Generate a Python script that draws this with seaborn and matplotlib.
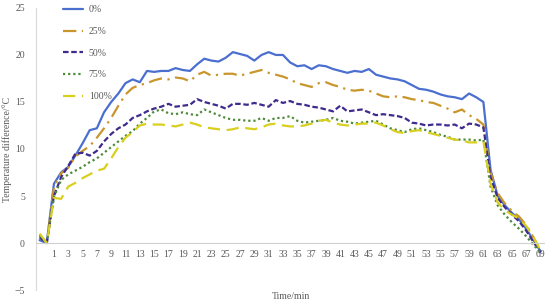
import numpy as np
import pandas as pd
import matplotlib
matplotlib.use("Agg")
import matplotlib.pyplot as plt
from matplotlib.ticker import FixedLocator
import seaborn as sns

# time axis (min), first sample before the start
time_min = list(range(-1, 70))

series_names = ["0%", "25%", "50%", "75%", "100%"]

diff_0 = [0.3, 0, 6.3, 7.5, 8.1, 9.3, 10.6, 12.0, 12.2, 13.9, 15.0, 15.9, 17.0, 17.4, 17.1,
          18.3, 18.2, 18.3, 18.3, 18.6, 18.4, 18.3, 19.0, 19.6, 19.4, 19.3, 19.7, 20.3, 20.1,
          19.9, 19.4, 20.0, 20.3, 20.0, 20.0, 19.2, 18.8, 18.9, 18.5, 18.9, 18.8, 18.5, 18.3,
          18.1, 18.3, 18.2, 18.5, 17.9, 17.7, 17.5, 17.4, 17.2, 16.8, 16.4, 16.3, 16.1, 15.8,
          15.6, 15.5, 15.3, 15.9, 15.5, 15.0,
          7.8, 5.0, 4.0, 3.2, 2.5, 1.5, 0.3, -0.9]
diff_25 = [0.9, 0, 6.0, 7.4, 8.0, 9.2, 9.8, 10.3, 11.2, 12.2, 13.3, 14.6, 15.8, 16.5, 16.8,
           17.0, 17.3, 17.5, 17.4, 17.6, 17.5, 17.2, 17.9, 18.2, 17.8, 17.9, 18.0, 18.0, 17.8,
           18.0, 18.2, 18.4, 18.1, 17.9, 17.7, 17.4, 17.0, 16.8, 16.6, 17.0, 17.1, 16.8, 16.6,
           16.3, 16.2, 16.3, 16.2, 15.9, 15.6, 15.5, 15.6, 15.5, 15.3, 15.2, 15.0, 14.9, 14.6,
           14.3, 13.9, 14.2, 13.6, 13.2, 12.6,
           7.5, 5.3, 4.2, 3.4, 2.8, 1.9, 0.6, -0.9]
diff_50 = [0.6, 0, 5.0, 7.0, 8.2, 9.5, 9.6, 9.3, 9.8, 10.8, 11.6, 12.2, 12.6, 13.3, 13.6,
           14.0, 14.3, 14.5, 14.8, 14.5, 14.6, 14.7, 15.3, 15.0, 14.8, 14.6, 14.3, 14.8, 14.8,
           14.7, 14.9, 14.7, 14.5, 15.2, 14.9, 15.1, 14.8, 14.7, 14.5, 14.4, 14.2, 14.0, 14.6,
           14.0, 14.1, 14.2, 13.9, 13.6, 13.7, 13.6, 13.5, 13.3, 12.8, 12.7, 12.5, 12.6, 12.6,
           12.5, 12.6, 12.2, 12.7, 12.6, 12.3,
           7.0, 4.8, 3.8, 3.0, 2.3, 1.3, 0.1, -1.0]
diff_75 = [0.8, 0, 4.9, 6.7, 7.3, 7.7, 8.1, 8.6, 9.0, 9.6, 10.2, 10.8, 11.4, 11.9, 12.7,
           13.3, 14.0, 14.2, 13.8, 13.7, 13.9, 13.7, 13.6, 14.2, 13.9, 13.6, 13.3, 13.1, 13.1,
           13.0, 13.0, 13.3, 13.0, 13.3, 13.3, 13.5, 13.0, 12.8, 12.9, 13.0, 13.1, 13.3, 13.0,
           12.9, 12.7, 12.8, 12.9, 13.0, 12.6, 12.2, 12.0, 11.8, 12.1, 12.2, 12.0, 11.8, 11.5,
           11.3, 11.0, 11.0, 11.0, 10.9, 11.0,
           6.0, 4.0, 3.0, 2.2, 1.5, 0.7, -0.2, -1.0]
diff_100 = [1.0, 0, 4.8, 4.7, 6.0, 6.4, 6.9, 7.3, 7.7, 7.9, 9.0, 10.2, 11.2, 11.8, 12.5,
            12.7, 12.6, 12.6, 12.5, 12.4, 12.6, 12.8, 12.6, 12.3, 12.2, 12.1, 12.0, 12.1, 12.3,
            12.2, 12.1, 12.3, 12.6, 12.7, 12.5, 12.4, 12.4, 12.5, 12.7, 13.0, 13.1, 12.8, 12.6,
            12.5, 12.6, 12.7, 12.7, 12.8, 12.5, 12.1, 11.8, 11.7, 11.9, 12.0, 11.8, 11.6, 11.4,
            11.2, 11.0, 10.9, 10.7, 10.7, 10.8,
            6.3, 4.3, 3.5, 3.0, 2.6, 1.8, 0.6, -0.8]

x_tick_labels = [str(t) for t in range(1, 70, 2)]

# long-form table for seaborn
df = pd.concat([
    pd.DataFrame({"time": time_min, "diff": vals, "series": name})
    for name, vals in zip(series_names, [diff_0, diff_25, diff_50, diff_75, diff_100])
], ignore_index=True)

palette = {"0%": "#4a6fcf", "25%": "#c9962c", "50%": "#3f2a8e",
           "75%": "#4e8a3a", "100%": "#d8cf1e"}
dashes = {"0%": "", "25%": (6, 2.5, 1, 2.5), "50%": (2.5, 1.2),
          "75%": (1, 1.3), "100%": (5.5, 3)}

sns.set_style("white")
plt.rcParams["font.family"] = ["Liberation Serif", "DejaVu Serif"]

fig = plt.figure(figsize=(5.5, 3.05), dpi=100)
ax = fig.add_axes([0.0655, 0.049, 0.924, 0.925])

sns.lineplot(data=df, x="time", y="diff", hue="series", style="series",
             palette=palette, dashes=dashes, linewidth=1.6, ax=ax,
             hue_order=series_names, style_order=series_names)

ax.set_xlim(-1.5, 69.5)
ax.set_ylim(-5, 25)
ax.set_yticks([-5, 0, 5, 10, 15, 20, 25])

grey = "#595959"
ax.xaxis.set_major_locator(FixedLocator(list(range(1, 70, 2))))
ax.set_xticklabels(x_tick_labels)
ax.xaxis.set_minor_locator(FixedLocator(list(np.arange(-1.5, 70, 1.0))))
ax.tick_params(axis="x", which="major", length=0, labelsize=7, colors=grey, pad=5)
ax.tick_params(axis="x", which="minor", length=2.5, color="#d0d0d0", direction="out")
ax.tick_params(axis="y", length=0, labelsize=7, colors=grey, pad=8)

for side in ["top", "right"]:
    ax.spines[side].set_visible(False)
ax.spines["bottom"].set_position(("data", 0))
ax.spines["bottom"].set_color("#d0d0d0")
ax.spines["left"].set_color("#d9d9d9")
ax.spines["bottom"].set_linewidth(0.8)
ax.spines["left"].set_linewidth(0.8)

ax.set_xlabel("")
ax.set_ylabel("Temperature difference/°C", fontsize=7, color=grey, labelpad=2)
fig.text(0.495, 0.012, "Time/min", fontsize=7, color=grey, ha="left", va="bottom")

leg = ax.legend(loc="upper left", bbox_to_anchor=(0.035, 1.04), frameon=False,
                fontsize=7, labelspacing=1.3, handlelength=2.1, handletextpad=0.6)
for txt in leg.get_texts():
    txt.set_color(grey)

fig.savefig("out.png", dpi=100)
